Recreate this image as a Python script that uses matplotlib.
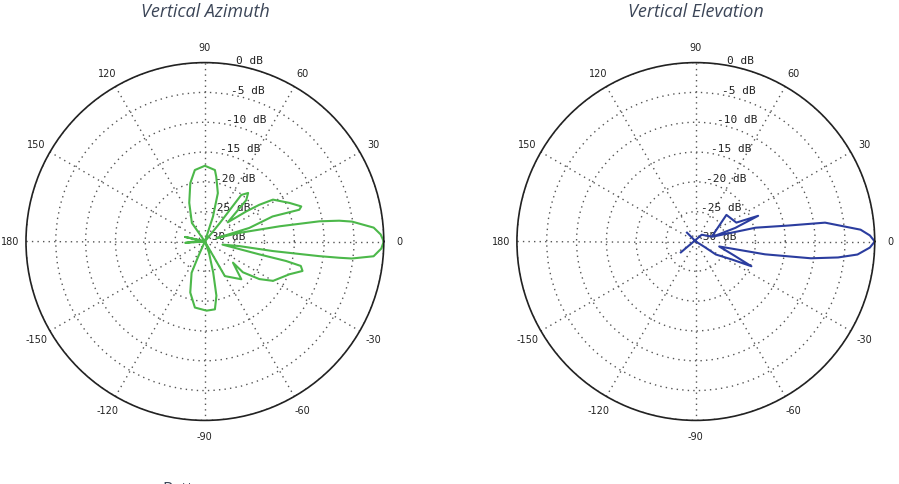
import matplotlib
matplotlib.use("Agg")
import matplotlib.pyplot as plt
import numpy as np

# angle (deg) / level (dB), in drawing order
az_deg = [0, 2.3, 4.7, 7.7, 8.8, 10, 11.5, 14, 16,
          17, 20.3, 18.6, 20, 24.5, 31.6, 34, 36, 40,
          45, 48.3, 52, 51, 56,
          72, 75, 80, 82, 90, 98, 104, 112, 125, 140,
          160, 167, 172, -179, -176, -170,
          -125, -114, -113, -106, -98.6, -88.6, -81.6, -78, -75, -70, -67,
          -60, -46, -37,
          -39, -34.6, -30, -21.2, -16.8, -14.3, -13.5, -13.3, -10,
          -7.6, -8, -7.3, -6.9, -6.6, -5, -2.3, 0]
az_db = [0, -0.5, -1.6, -5.1, -7.2, -10.5, -17.2, -24, -28,
         -22.2, -17.9, -13.3, -12.8, -14.4, -16.6, -19, -21.4, -25,
         -20.2, -19.1, -20.1, -26, -30,
         -25.6, -21.6, -19, -17.9, -17.3, -17.9, -19.9, -23, -26.2, -30,
         -30, -26.6, -30, -28, -26.7, -30,
         -30, -27.3, -24.3, -21.1, -18.8, -18.4, -18.5, -20.7, -24.6, -28, -30,
         -23.3, -21.2, -24.1,
         -21.8, -18.9, -16.8, -14.8, -12.9, -13.4, -16, -20.6, -27,
         -24.1, -18.5, -10.7, -7.3, -5.2, -1.6, -0.4, 0]

el_deg = [-144, 49, 17, 41, 25, 22.4, 19, 16,
          13, 9.8, 8.3, 4.1, 2, 0, -2, -4.6, -6.4, -8.3, -10.5, -12,
          -20, -24, -26.6, -33, -32, 0, 135]
el_db = [-26.9, -28.5, -27.2, -23.2, -22.5, -18.7, -23, -27,
         -19.7, -14.3, -8.1, -2.3, -0.8, 0, -0.8, -2.8, -6, -10.5, -18.2, -26,
         -23.2, -19.8, -23.3, -26, -28.4, -30, -27.9]

titles = ["Vertical Azimuth", "Vertical Elevation"]
colors = ["#4cb84a", "#2b3d9f"]
rticks = [-30, -25, -20, -15, -10, -5, 0]
aticks = [0, 30, 60, 90, 120, 150, 180, -150, -120, -90, -60, -30]

fig = plt.figure(figsize=(8.99, 4.85), dpi=100)
lefts = [0.0289, 0.575]
datasets = [(az_deg, az_db), (el_deg, el_db)]

for i in range(2):
    ax = fig.add_axes([lefts[i], 0.131, 0.398, 0.738], projection="polar")
    deg, db = datasets[i]
    ax.plot(np.radians(deg), db, color=colors[i], lw=1.5)
    ax.set_xticks(np.radians(np.arange(0, 360, 30)))
    ax.set_xticklabels([str(a) for a in aticks])
    ax.set_xlim(0, 2 * np.pi)
    ax.set_ylim(-30, 0)
    ax.set_yticks(rticks)
    ax.set_yticklabels([f"{v} dB" for v in rticks])
    for t in ax.get_yticklabels():
        t.set_family("DejaVu Sans Mono")
        t.set_fontsize(8)
        t.set_color("#222222")
    ax.set_rlabel_position(80)
    ax.tick_params(axis="x", pad=1, labelsize=7, colors="#222222")
    ax.grid(True, linestyle=(0, (1, 3)), color="#555555", lw=1.0)
    ax.spines["polar"].set_color("#222222")
    ax.spines["polar"].set_linewidth(1.2)
    fig.text(lefts[i] + 0.199, 0.975, titles[i], ha="center", va="center",
             fontsize=13, style="italic", color="#3c4658", family="Open Sans")

fig.text(162 / 899, 2.5 / 485, "Patterns", ha="left", va="top",
         fontsize=12, color="#3c4658", family="Open Sans")

plt.savefig("out.png", dpi=100)
